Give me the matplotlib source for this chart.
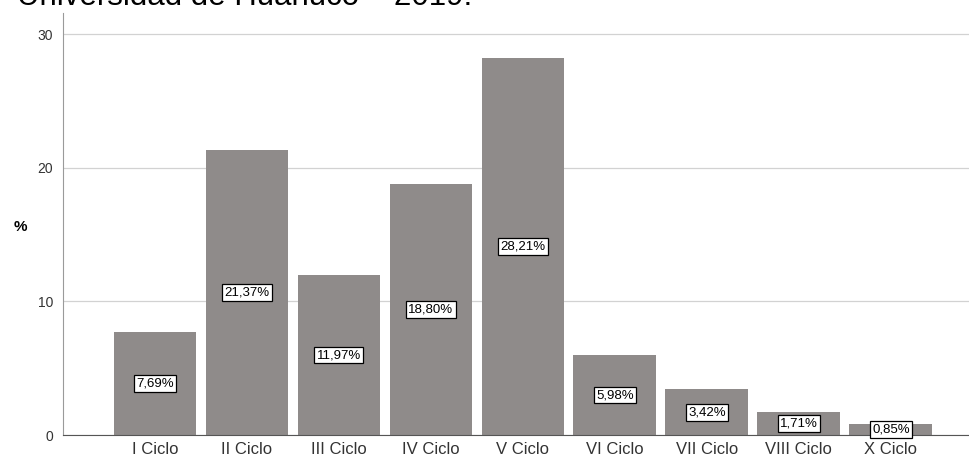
import numpy as np
import matplotlib.pyplot as plt

ciclos = ['I Ciclo', 'II Ciclo', 'III Ciclo', 'IV Ciclo', 'V Ciclo',
          'VI Ciclo', 'VII Ciclo', 'VIII Ciclo', 'X Ciclo']
porcentaje = [7.69, 21.37, 11.97, 18.80, 28.21, 5.98, 3.42, 1.71, 0.85]
etiquetas = ['7,69%', '21,37%', '11,97%', '18,80%', '28,21%',
             '5,98%', '3,42%', '1,71%', '0,85%']
yticks = [0, 10, 20, 30]

plt.rcParams['font.family'] = ['Liberation Sans', 'DejaVu Sans']

fig = plt.figure(figsize=(9.69, 4.61), dpi=100)
ax = fig.add_axes([63 / 969, (461 - 435) / 461, 1 - 63 / 969, (435 - 13) / 461])

x = np.arange(len(ciclos))
bars = ax.bar(x, porcentaje, width=0.9, color='#8f8b8a', zorder=2)

# etiqueta en el centro de cada barra
for b, lab in zip(bars, etiquetas):
    h = b.get_height()
    ax.text(b.get_x() + b.get_width() / 2, h / 2, lab, ha='center', va='center',
            fontsize=9.5, zorder=3,
            bbox=dict(boxstyle='square,pad=0.18', fc='white', ec='black', lw=0.9))

ax.set_xlim(-1.0, 8.85)
ax.set_ylim(0, 31.6)
ax.set_xticks(x)
ax.set_xticklabels(ciclos, fontsize=12, color='#333333')
ax.set_yticks(yticks)
ax.set_yticklabels([str(v) for v in yticks], fontsize=10, color='#333333')
ax.tick_params(axis='x', length=0, pad=5)
ax.tick_params(axis='y', length=0, pad=7)

ax.grid(axis='y', color='#d2d2d2', lw=0.9, zorder=0)
for s in ['top', 'right']:
    ax.spines[s].set_visible(False)
ax.spines['left'].set_color('#9a9a9a')
ax.spines['bottom'].set_color('#555555')

fig.text(20 / 969, 1 - 227 / 461, '%', fontsize=11, fontweight='bold',
         ha='center', va='center')
fig.text(17 / 969, 1 - 5 / 461, 'Universidad de Huánuco \u2013 2019.', fontsize=22.5,
         ha='left', va='baseline')

fig.savefig('out.png', dpi=100)
